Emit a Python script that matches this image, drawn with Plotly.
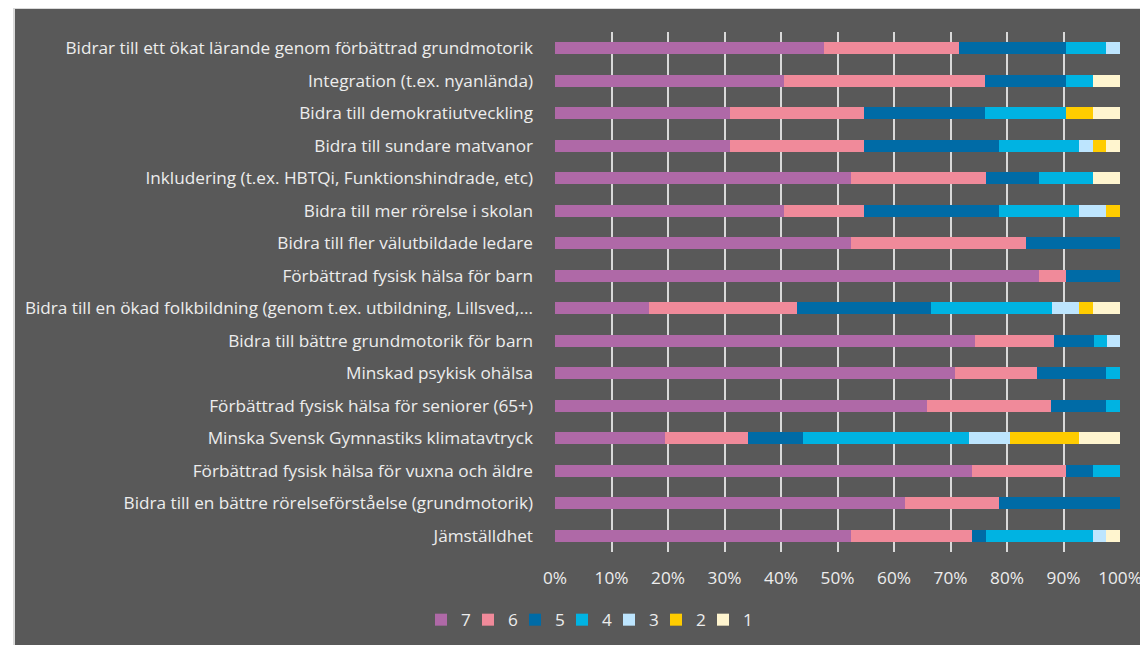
import plotly.graph_objects as go

categories = [
    "Bidrar till ett ökat lärande genom förbättrad grundmotorik",
    "Integration (t.ex. nyanlända)",
    "Bidra till demokratiutveckling",
    "Bidra till sundare matvanor",
    "Inkludering (t.ex. HBTQi, Funktionshindrade, etc)",
    "Bidra till mer rörelse i skolan",
    "Bidra till fler välutbildade ledare",
    "Förbättrad fysisk hälsa för barn",
    "Bidra till en ökad folkbildning (genom t.ex. utbildning, Lillsved,...",
    "Bidra till bättre grundmotorik för barn",
    "Minskad psykisk ohälsa",
    "Förbättrad fysisk hälsa för seniorer (65+)",
    "Minska Svensk Gymnastiks klimatavtryck",
    "Förbättrad fysisk hälsa för vuxna och äldre",
    "Bidra till en bättre rörelseförståelse (grundmotorik)",
    "Jämställdhet",
]

# percent share per rating, one list per series (same order as categories)
s7 = [47.6, 40.5, 31.0, 31.0, 52.4, 40.5, 52.4, 85.7, 16.7, 74.4, 70.7, 65.9, 19.5, 73.8, 61.9, 52.4]
s6 = [23.8, 35.7, 23.8, 23.8, 23.8, 14.3, 31.0, 4.8, 26.2, 14.0, 14.6, 22.0, 14.6, 16.7, 16.7, 21.4]
s5 = [19.0, 14.3, 21.4, 23.8, 9.5, 23.8, 16.7, 9.5, 23.8, 7.0, 12.2, 9.8, 9.8, 4.8, 21.4, 2.4]
s4 = [7.1, 4.8, 14.3, 14.3, 9.5, 14.3, 0, 0, 21.4, 2.3, 2.4, 2.4, 29.3, 4.8, 0, 19.0]
s3 = [2.4, 0, 0, 2.4, 0, 4.8, 0, 0, 4.8, 2.3, 0, 0, 7.3, 0, 0, 2.4]
s2 = [0, 0, 4.8, 2.4, 0, 2.4, 0, 0, 2.4, 0, 0, 0, 12.2, 0, 0, 0]
s1 = [0, 4.8, 4.8, 2.4, 4.8, 0, 0, 0, 4.8, 0, 0, 0, 7.3, 0, 0, 2.4]

series_names = ["7", "6", "5", "4", "3", "2", "1"]
series_values = [s7, s6, s5, s4, s3, s2, s1]
colors = ["#AF69A7", "#F08A9A", "#006BA6", "#00B3E2", "#BDE5FE", "#FFCC00", "#FFF5CF"]

tick_vals = [0, 10, 20, 30, 40, 50, 60, 70, 80, 90, 100]
tick_text = ["0%", "10%", "20%", "30%", "40%", "50%", "60%", "70%", "80%", "90%", "100%"]

fig = go.Figure()
for name, vals, col in zip(series_names, series_values, colors):
    fig.add_trace(go.Bar(
        y=categories, x=vals, name=name, orientation="h",
        marker=dict(color=col, line=dict(width=0)),
        hoverinfo="skip",
    ))

# page has an 8px body margin -> figure is offset by 8px
OFF = 8
W, H = 1148 - OFF, 645 - OFF
ml, mr, mt, mb = 555 - OFF, 28, 32 - OFF, 93
pw, ph = W - ml - mr, H - mt - mb

def px_x(p):
    return (p - OFF - ml) / pw

def px_y(p):
    return (H - mb - (p - OFF)) / ph

txt = "#EDEDED"
font_family = "'Open Sans', Lato, sans-serif"
fs = 17.2

fig.update_layout(
    width=W, height=H,
    margin=dict(l=ml, r=mr, t=mt, b=mb, pad=0, autoexpand=False),
    barmode="stack", barnorm="percent", bargap=0.63,
    paper_bgcolor="#FFFFFF",
    plot_bgcolor="rgba(0,0,0,0)",
    font=dict(family=font_family, size=fs, color=txt),
    showlegend=True,
    legend=dict(
        orientation="h", traceorder="normal",
        x=px_x(421), xanchor="left", y=px_y(620), yanchor="middle",
        entrywidth=2, entrywidthmode="pixels",
        font=dict(family=font_family, size=fs, color=txt),
        bgcolor="rgba(0,0,0,0)",
    ),
    shapes=[dict(
        type="rect", xref="paper", yref="paper", layer="below",
        x0=px_x(14), x1=px_x(1160), y0=px_y(660), y1=px_y(8),
        fillcolor="#595959", line=dict(color="#D9D9D9", width=2),
    )],
    xaxis=dict(
        range=[0, 100], tickmode="array", tickvals=tick_vals, ticktext=tick_text,
        showgrid=True, gridcolor="#D9D9D9", gridwidth=1.5,
        zeroline=False, showline=False, ticks="",
        ticklabelstandoff=14, automargin=False,
        tickfont=dict(family=font_family, size=fs, color=txt),
        fixedrange=True,
    ),
    yaxis=dict(
        categoryorder="array", categoryarray=categories, autorange="reversed",
        showgrid=False, zeroline=False, showline=False, ticks="",
        ticklabelstandoff=21, automargin=False,
        tickfont=dict(family=font_family, size=fs, color=txt),
        fixedrange=True,
    ),
)

fig.write_html("out.html")
